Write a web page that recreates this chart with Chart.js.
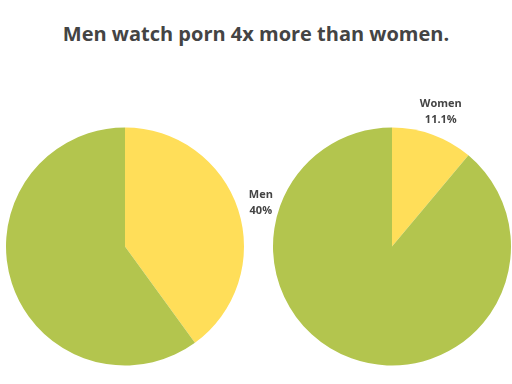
<!DOCTYPE html>
<html>
<head>
<meta charset="utf-8">
<script src="https://cdn.jsdelivr.net/npm/chart.js@4"></script>
<style>
  body { margin: 0; background: #fff; }
  #wrap { position: relative; width: 512px; height: 384px; overflow: hidden; }
  #title { position: absolute; left: 0; top: 20px; width: 512px; text-align: center;
           font: bold 20px "Open Sans", sans-serif; color: #444; }
  canvas { position: absolute; left: 0; top: 0; }
</style>
</head>
<body>
<div id="wrap">
  <div id="title">Men watch porn 4x more than women.</div>
  <canvas id="pie-left" width="512" height="384"></canvas>
  <canvas id="pie-right" width="512" height="384"></canvas>
</div>
<script>
var leftLabels = ["Men", "Women"];
var leftValues = [40, 60];
var rightLabels = ["Women", "Men"];
var rightValues = [11.1, 88.9];
var sliceColors = ["#FFDE59", "#B3C54E"];

// outside label only for the first (yellow) slice
var outLabel = {
    id: 'outLabel',
    afterDatasetsDraw: function (chart) {
        var ctx = chart.ctx;
        var arc = chart.getDatasetMeta(0).data[0];
        var mid = (arc.startAngle + arc.endAngle) / 2;
        var r = arc.outerRadius * 1.2;
        var x = arc.x + Math.cos(mid) * r;
        var y = arc.y + Math.sin(mid) * r;
        var v = chart.data.datasets[0].data[0];
        ctx.save();
        ctx.font = 'bold 11px "Open Sans", sans-serif';
        ctx.fillStyle = '#444';
        ctx.textAlign = 'center';
        ctx.textBaseline = 'middle';
        ctx.fillText(chart.data.labels[0], x, y - 8);
        ctx.fillText(v + '%', x, y + 8);
        ctx.restore();
    }
};

function makePie(id, labels, values, pad) {
    return new Chart(document.getElementById(id), {
        type: 'pie',
        data: {
            labels: labels,
            datasets: [{
                data: values,
                backgroundColor: sliceColors,
                borderWidth: 0
            }]
        },
        options: {
            responsive: false,
            animation: false,
            layout: {padding: pad},
            plugins: {
                legend: {display: false},
                tooltip: {enabled: false}
            }
        },
        plugins: [outLabel]
    });
}

makePie("pie-left", leftLabels, leftValues, {left: 6, right: 268, top: 127, bottom: 18});
makePie("pie-right", rightLabels, rightValues, {left: 273, right: 1, top: 127, bottom: 18});
</script>
</body>
</html>
